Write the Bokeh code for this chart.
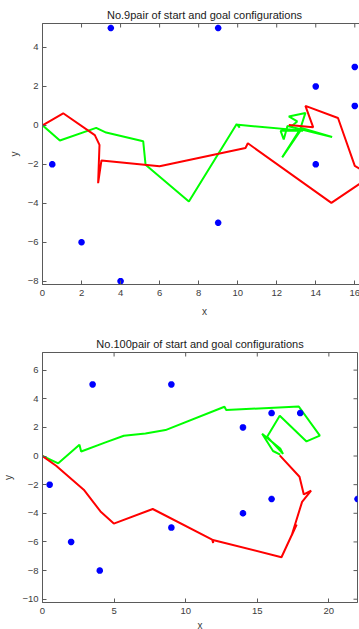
import math
from bokeh.plotting import figure
from bokeh.models import Range1d, FixedTicker, Title
from bokeh.layouts import column
from bokeh.embed import file_html
from bokeh.resources import INLINE

# ---- pair No.9 ----
obs9_x = [0.5, 2, 4, 3.5, 9, 9, 14, 14, 16, 16]
obs9_y = [-2, -6, -8, 5, 5, -5, 2, -2, 3, 1]

red9_x = [0, 1.06, 2.68, 2.92, 2.85, 3.02, 6.0, 10.4, 10.52, 14.8, 16.85, 16.0, 15.14, 13.47, 13.87, 12.62]
red9_y = [0, 0.62, -0.5, -1.0, -2.97, -1.8, -2.1, -1.16, -0.92, -3.98, -2.6, -2.08, 0.38, 1.0, -0.1, 0.02]

green9_x = [0, 0.89, 2.75, 3.26, 5.16, 5.28, 7.5, 9.95, 10.1, 10.02, 13.35, 12.2, 12.36, 12.55,
            14.84, 13.3, 12.28, 13.2, 13.47, 12.62, 13.05, 12.7]
green9_y = [0, -0.78, -0.13, -0.37, -0.82, -2.02, -3.91, 0.07, -0.12, 0.03, -0.27, -0.28, -0.72, -0.03,
            -0.6, -0.15, -1.64, -0.2, 0.64, 0.46, 0.2, -0.1]

# ---- pair No.100 ----
obs100_x = [0.5, 2, 4, 3.5, 9, 9, 14, 14, 16, 16, 18, 22]
obs100_y = [-2, -6, -8, 5, 5, -5, 2, -4, 3, -3, 3, -3]

red100_x = [0, 0.95, 2.88, 4.05, 4.98, 7.7, 11.85, 11.92, 11.9, 16.69, 17.75, 17.4, 18.13, 18.76, 18.25, 17.95, 16.57]
red100_y = [0, -0.68, -2.35, -3.87, -4.72, -3.7, -5.84, -6.08, -5.86, -7.07, -4.78, -5.55, -3.2, -2.42, -2.68, -1.45, 0.05]

green100_x = [0, 1.1, 2.58, 2.7, 4.4, 5.68, 7.19, 8.59, 12.71, 12.83, 17.9, 19.37, 18.44, 16.57, 15.69,
              16.8, 16.62, 15.34, 16.1, 16.6]
green100_y = [0, -0.51, 0.79, 0.32, 0.95, 1.42, 1.58, 1.81, 3.44, 3.21, 3.46, 1.42, 1.02, 2.81, 1.35,
              0.15, 0.5, 1.55, 0.35, 0.1]

FONT = "Liberation Sans"
AX = "#5a5a5a"
TXT = "#3c3c3c"


def style_axis(ax, ticks, label_standoff, title_standoff):
    ax.ticker = FixedTicker(ticks=ticks)
    ax.major_tick_in = 4
    ax.major_tick_out = 0
    ax.minor_tick_in = 0
    ax.minor_tick_out = 0
    ax.axis_line_color = AX
    ax.major_tick_line_color = AX
    ax.axis_line_width = 1
    ax.major_label_text_font = FONT
    ax.major_label_text_color = TXT
    ax.major_label_text_font_size = "9.5px"
    ax.major_label_standoff = label_standoff
    ax.axis_label_text_font = FONT
    ax.axis_label_text_color = TXT
    ax.axis_label_text_font_size = "10px"
    ax.axis_label_text_font_style = "normal"
    ax.axis_label_standoff = title_standoff


def panel(title, ox, oy, rx, ry, gx, gy, xr, yr, xt, yt, fw, fh,
          left, right, top, bottom, title_offset, title_standoff, xlabel_standoff):
    p = figure(frame_width=fw, frame_height=fh,
               x_range=Range1d(*xr), y_range=Range1d(*yr),
               output_backend="svg", toolbar_location=None,
               min_border_left=left, min_border_right=right,
               min_border_top=top, min_border_bottom=bottom,
               background_fill_color="white", border_fill_color="white",
               outline_line_color=AX, outline_line_width=1,
               x_axis_label="x", y_axis_label="y")
    p.grid.visible = False

    style_axis(p.xaxis[0], xt, 5, xlabel_standoff)
    style_axis(p.yaxis[0], yt, 4, 5)

    # inward tick marks on the top and right edges of the box
    p.scatter(xt, [yr[1]] * len(xt), marker="dash", angle=math.pi / 2, size=8,
              line_color=AX, line_width=1)
    p.scatter([xr[1]] * len(yt), yt, marker="dash", angle=0, size=8,
              line_color=AX, line_width=1)

    t = Title(text=title, text_font=FONT, text_font_size="11px",
              text_font_style="normal", text_color="#1a1a1a",
              align="center", standoff=title_standoff, offset=title_offset)
    p.add_layout(t, "above")

    p.line(gx, gy, line_color="#00ff00", line_width=2)
    p.line(rx, ry, line_color="#ff0000", line_width=2)
    p.scatter(ox, oy, marker="asterisk", size=6.5, line_width=2.2, color="#0000ff")
    return p


p1 = panel("No.9pair of start and goal configurations",
           obs9_x, obs9_y, red9_x, red9_y, green9_x, green9_y,
           (0, 16.6), (-8.17, 5.23), list(range(0, 17, 2)), list(range(-8, 5, 2)),
           324, 261, 37, 0, 23, 38, 2.5, 5, 7)

p2 = panel("No.100pair of start and goal configurations",
           obs100_x, obs100_y, red100_x, red100_y, green100_x, green100_y,
           (0, 22), (-10.23, 7.23), list(range(0, 21, 5)), list(range(-10, 7, 2)),
           315, 250, 42, 2, 30, 27, 0, 5, 3)

layout = column(p1, p2, spacing=0)
open("out.html", "w").write(file_html(layout, INLINE))
